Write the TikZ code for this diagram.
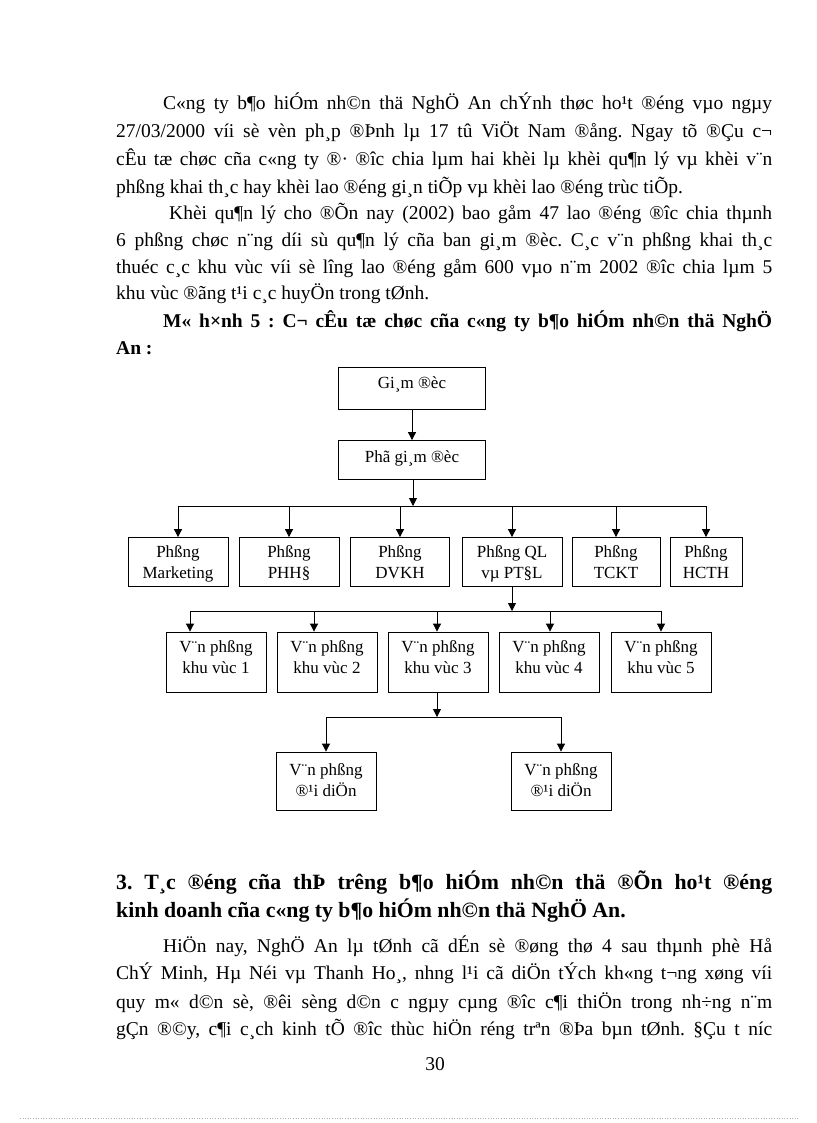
\documentclass[tikz,border=0pt]{standalone}
\usepackage{fontspec}
\setmainfont{Liberation Serif}
\usetikzlibrary{arrows.meta}
\tikzset{
  body/.style={anchor=base west, inner sep=0pt, font=\fontsize{19.5}{24}\selectfont},
  headtext/.style={anchor=base west, inner sep=0pt, font=\fontsize{21.8}{24}\selectfont\bfseries},
  captext/.style={anchor=base west, inner sep=0pt, font=\fontsize{19.5}{24}\selectfont\bfseries},
  box/.style={draw, line width=0.8pt, inner sep=0pt, minimum width=100, align=center},
  boxtext/.style={inner sep=0pt, anchor=north, font=\fontsize{17}{20.5}\selectfont, align=center},
  ln/.style={line width=0.8pt},
  arr/.style={line width=0.8pt, -{Triangle[length=8pt,width=8pt]}},
}
\begin{document}
\frenchspacing
\begin{tikzpicture}[x=1pt,y=-1pt]
\useasboundingbox (0,0) rectangle (816,1123);
\fill[white] (0,0) rectangle (816,1123);

% paragraph 1
\node[body] (p1a) at (163,110) {\hbox to 609pt{C«ng ty b¶o hiÓm nh©n thä NghÖ An chÝnh thøc ho¹t ®éng vµo ngµy}};
\node[body] (p1b) at (116,138) {\hbox to 656pt{27/03/2000 víi sè vèn ph¸p ®Þnh lµ 17 tû ViÖt Nam ®ång. Ngay tõ ®Çu c¬}};
\node[body] (p1c) at (116,166) {\hbox to 656pt{cÊu tæ chøc cña c«ng ty ®· ®îc chia lµm hai khèi lµ khèi qu¶n lý vµ khèi v¨n}};
\node[body] (p1d) at (116,194) {phßng khai th¸c hay khèi lao ®éng gi¸n tiÕp vµ khèi lao ®éng trùc tiÕp.};

% paragraph 2
\node[body] (p2a) at (169,220) {\hbox to 603pt{Khèi qu¶n lý cho ®Õn nay (2002) bao gåm 47 lao ®éng ®îc chia thµnh}};
\node[body] (p2b) at (116,247) {\hbox to 656pt{6 phßng chøc n¨ng díi sù qu¶n lý cña ban gi¸m ®èc. C¸c v¨n phßng khai th¸c}};
\node[body] (p2c) at (116,273) {\hbox to 656pt{thuéc c¸c khu vùc víi sè lîng lao ®éng gåm 600 vµo n¨m 2002 ®îc chia lµm 5}};
\node[body] (p2d) at (116,299) {khu vùc ®ãng t¹i c¸c huyÖn trong tØnh.};

% caption
\node[captext] (c1) at (163,327) {\hbox to 609pt{M« h×nh 5 : C¬ cÊu tæ chøc cña c«ng ty b¶o hiÓm nh©n thä NghÖ}};
\node[captext] (c2) at (116,354) {An :};

% diagram
\node[box, minimum width=147, minimum height=42] (gd) at (412,388) {};
\node[boxtext] (gdt) at ([yshift=-10pt]gd.north) {Gi¸m ®èc};
\node[box, minimum width=147, minimum height=39] (pgd) at (412,460) {};
\node[boxtext] (pgdt) at ([yshift=-10pt]pgd.north) {Phã gi¸m ®èc};

\node[box, minimum height=49] (m)  at (178,562) {};
\node[box, minimum height=49] (ph) at (289,562) {};
\node[box, minimum width=99, minimum height=49] (dv) at (400,562) {};
\node[box, minimum height=49] (ql) at (512,562) {};
\node[box, minimum width=88, minimum height=49] (tc) at (616,562) {};
\node[box, minimum width=72, minimum height=49] (hc) at (706,562) {};
\node[boxtext] (mt)  at ([yshift=-8.5pt]m.north)  {Phßng\\Marketing};
\node[boxtext] (pht) at ([yshift=-8.5pt]ph.north) {Phßng\\PHH§};
\node[boxtext] (dvt) at ([yshift=-8.5pt]dv.north) {Phßng\\DVKH};
\node[boxtext] (qlt) at ([yshift=-8.5pt]ql.north) {Phßng QL\\vµ PT§L};
\node[boxtext] (tct) at ([yshift=-8.5pt]tc.north) {Phßng\\TCKT};
\node[boxtext] (hct) at ([yshift=-8.5pt]hc.north) {Phßng\\HCTH};

\foreach \n/\x in {k1/216,k2/327,k3/438,k4/549,k5/661}{
  \node[box, minimum height=60] (\n) at (\x,662) {};
}
\node[boxtext] (k1t) at ([yshift=-9pt]k1.north) {V¨n phßng\\khu vùc 1};
\node[boxtext] (k2t) at ([yshift=-9pt]k2.north) {V¨n phßng\\khu vùc 2};
\node[boxtext] (k3t) at ([yshift=-9pt]k3.north) {V¨n phßng\\khu vùc 3};
\node[boxtext] (k4t) at ([yshift=-9pt]k4.north) {V¨n phßng\\khu vùc 4};
\node[boxtext] (k5t) at ([yshift=-9pt]k5.north) {V¨n phßng\\khu vùc 5};

\node[box, minimum height=58] (d1) at (326,781) {};
\node[box, minimum height=58] (d2) at (561,781) {};
\node[boxtext] (d1t) at ([yshift=-12pt]d1.north) {V¨n phßng\\®¹i diÖn};
\node[boxtext] (d2t) at ([yshift=-12pt]d2.north) {V¨n phßng\\®¹i diÖn};

% connectors
\draw[arr] (gd) -- (pgd);
\coordinate (b1) at (413,506);
\draw[arr] (pgd.south -| b1) -- (b1);
\draw[ln] (m.north |- b1) -- (hc.north |- b1);
\foreach \n in {m,ph,dv,ql,tc,hc}{ \draw[arr] (\n.north |- b1) -- (\n.north); }

\coordinate (b2) at (512,611);
\draw[arr] (ql) -- (b2);
\coordinate (a1) at (190,611);
\coordinate (a2) at (314,611);
\coordinate (a3) at (437,611);
\coordinate (a4) at (550,611);
\coordinate (a5) at (661,611);
\draw[ln] (a1) -- (a5);
\foreach \i in {1,...,5}{ \draw[arr] (a\i) -- (a\i |- k\i.north); }

\coordinate (b3) at (437,717);
\draw[arr] (k3.south -| b3) -- (b3);
\draw[ln] (d1.north |- b3) -- (d2.north |- b3);
\draw[arr] (d1.north |- b3) -- (d1.north);
\draw[arr] (d2.north |- b3) -- (d2.north);

% heading
\node[headtext] (h1) at (116,889) {\hbox to 656pt{3. T¸c ®éng cña thÞ trêng b¶o hiÓm nh©n thä ®Õn ho¹t ®éng}};
\node[headtext] (h2) at (116,917) {kinh doanh cña c«ng ty b¶o hiÓm nh©n thä NghÖ An.};

% paragraph 3
\node[body] (p3a) at (163,952) {\hbox to 609pt{HiÖn nay, NghÖ An lµ tØnh cã dÉn sè ®øng thø 4 sau thµnh phè Hå}};
\node[body] (p3b) at (116,979) {\hbox to 656pt{ChÝ Minh, Hµ Néi vµ Thanh Ho¸, nhng l¹i cã diÖn tÝch kh«ng t¬ng xøng víi}};
\node[body] (p3c) at (116,1008) {\hbox to 656pt{quy m« d©n sè, ®êi sèng d©n c ngµy cµng ®îc c¶i thiÖn trong nh÷ng n¨m}};
\node[body] (p3d) at (116,1035) {\hbox to 656pt{gÇn ®©y, c¶i c¸ch kinh tÕ ®îc thùc hiÖn réng trªn ®Þa bµn tØnh. §Çu t níc}};

\node[body, anchor=base] (pn) at (435,1070) {30};

\coordinate (dl) at (20,1118);
\coordinate (dr) at (800,1118);
\draw[gray!60, dotted, line width=0.6pt] (dl) -- (dr);
\end{tikzpicture}
\end{document}
